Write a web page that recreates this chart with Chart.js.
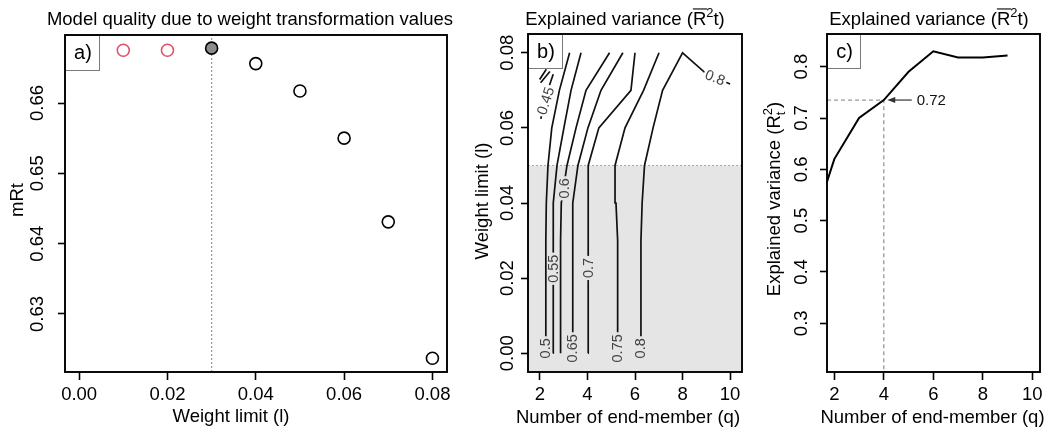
<!DOCTYPE html>
<html><head><meta charset="utf-8">
<script src="https://cdn.jsdelivr.net/npm/chart.js@4.4.1/dist/chart.umd.min.js"></script>
<style>
html,body{margin:0;padding:0;background:#fff;width:1050px;height:432px;overflow:hidden}
canvas{position:absolute;top:0}
#ca{left:0}#cb{left:470px}#cc{left:750px}
</style></head><body>
<canvas id="ca" width="470" height="432"></canvas>
<canvas id="cb" width="280" height="432"></canvas>
<canvas id="cc" width="300" height="432"></canvas>
<script>
// ---------------- Panel a data ----------------
const weightLimits = [0.01, 0.02, 0.03, 0.04, 0.05, 0.06, 0.07, 0.08];
const modelQuality = [0.6675, 0.6675, 0.6678, 0.6656, 0.6617, 0.6550, 0.6431, 0.6237];
const chosenLimit = 0.03;
const aXTicks = [0, 0.02, 0.04, 0.06, 0.08];
const aXLabels = ['0.00', '0.02', '0.04', '0.06', '0.08'];
const aYTicks = [0.63, 0.64, 0.65, 0.66];
const aYLabels = ['0.63', '0.64', '0.65', '0.66'];

// ---------------- Panel b data (contours of explained variance) ----------------
const gridLimits = [0, 0.01, 0.02, 0.03, 0.04, 0.05, 0.06, 0.07, 0.08];
const c050 = [2.25, 2.25, 2.25, 2.25, 2.27, 2.34, 2.50, 2.82, 3.25];
const c055 = [2.56, 2.56, 2.56, 2.56, 2.57, 2.72, 3.01, 3.31, 3.73];
const c060 = [2.87, 2.87, 2.87, 2.87, 2.90, 3.14, 3.52, 3.94, 4.93];
const c065 = [3.38, 3.38, 3.38, 3.38, 3.39, 3.60, 4.02, 4.57, 5.49];
const c070 = [4.03, 4.03, 4.03, 4.03, 4.03, 4.04, 4.48, 5.83, 6.00];
const c075 = [5.27, 5.27, 5.27, 5.27, 5.20, 5.16, 5.58, 6.36, 7.01];
const c080 = [6.25, 6.25, 6.25, 6.25, 6.30, 6.40, 6.76, 7.16, 8.00];
const c080TailQ = [9, 10];
const c080TailL = [0.0744, 0.0717];
const c035Q = [1.99, 2.27];
const c035L = [0.0729, 0.0756];
const c040Q = [2.03, 2.42];
const c040L = [0.0720, 0.0750];
const c045Q = [2.04, 2.25, 2.56];
const c045L = [0.0624, 0.0685, 0.0743];
const cutLimit = 0.05;
const contourLabelText = ['0.45', '0.5', '0.55', '0.6', '0.65', '0.7', '0.75', '0.8', '0.8'];
const contourLabelQ = [2.25, 2.25, 2.56, 3.02, 3.38, 4.03, 5.27, 6.25, 9.37];
const contourLabelL = [0.0672, 0.0013, 0.0225, 0.0439, 0.0013, 0.0227, 0.0013, 0.0013, 0.0733];
const contourLabelAngle = [-72, -90, -90, -90, -90, -90, -90, -90, 22];
const bXTicks = [2, 4, 6, 8, 10];
const bXLabels = ['2', '4', '6', '8', '10'];
const bYTicks = [0, 0.02, 0.04, 0.06, 0.08];
const bYLabels = ['0.00', '0.02', '0.04', '0.06', '0.08'];

// ---------------- Panel c data ----------------
const endMembers = [1, 2, 3, 4, 5, 6, 7, 8, 9];
const explainedVariance = [0.47, 0.62, 0.70, 0.735, 0.79, 0.83, 0.818, 0.818, 0.822];
const chosenQ = 4;
const chosenText = '0.72';
const arrowFromQ = 5.13;
const arrowToQ = 4.14;
const arrowTextQ = 5.33;
const cXTicks = [2, 4, 6, 8, 10];
const cXLabels = ['2', '4', '6', '8', '10'];
const cYTicks = [0.3, 0.4, 0.5, 0.6, 0.7, 0.8];
const cYLabels = ['0.3', '0.4', '0.5', '0.6', '0.7', '0.8'];

// ---------------- helpers ----------------
const FONT = "'Liberation Sans', Arial, Helvetica, sans-serif";
const FS = 18.5;
const RED = '#DF536B';
const GREYBG = '#e5e5e5';
const tickFont = {family: FONT, size: FS};

function scalesFor(o) {
  return {
    x: {
      type: 'linear', position: 'bottom', min: o.xMin, max: o.xMax,
      afterBuildTicks: s => { s.ticks = o.xTicks.map(v => ({value: v})); },
      afterFit: s => { s.height = 60; },
      ticks: {callback: (v, i) => o.xLabels[i], font: tickFont, color: '#000', padding: 4,
              autoSkip: false, maxRotation: 0, minRotation: 0},
      grid: {display: true, drawOnChartArea: false, drawTicks: true, tickLength: 8,
             tickColor: '#000', tickWidth: 1.6, color: '#000'},
      border: {display: false}
    },
    y: {
      type: 'linear', position: 'left', min: o.yMin, max: o.yMax,
      afterBuildTicks: s => { s.ticks = o.yTicks.map(v => ({value: v})); },
      afterFit: s => { s.width = o.yWidth; },
      ticks: {callback: (v, i) => o.yLabels[i], font: tickFont, color: '#000', padding: o.yPad,
              autoSkip: false, minRotation: 90, maxRotation: 90, crossAlign: 'center'},
      grid: {display: true, drawOnChartArea: false, drawTicks: true, tickLength: 7,
             tickColor: '#000', tickWidth: 1.6, color: '#000'},
      border: {display: false}
    }
  };
}

function baseOptions(o) {
  return {
    responsive: false, animation: false, devicePixelRatio: 1,
    layout: {padding: {left: 0, right: o.rightPad, top: o.topPad, bottom: 0}},
    plugins: {legend: {display: false}, tooltip: {enabled: false}, title: {display: false}},
    scales: scalesFor(o)
  };
}

function frame(ctx, a) {
  ctx.save();
  ctx.strokeStyle = '#000'; ctx.lineWidth = 1.9;
  ctx.strokeRect(a.left, a.top, a.right - a.left, a.bottom - a.top);
  ctx.restore();
}
function letterBox(ctx, a, txt, w, h) {
  ctx.save();
  ctx.fillStyle = '#fff'; ctx.fillRect(a.left, a.top, w, h);
  ctx.strokeStyle = '#7a7a7a'; ctx.lineWidth = 1;
  ctx.strokeRect(a.left + 0.5, a.top + 0.5, w, h);
  ctx.fillStyle = '#000'; ctx.font = '20px ' + FONT;
  ctx.textAlign = 'center'; ctx.textBaseline = 'middle';
  ctx.fillText(txt, a.left + w / 2 + 1, a.top + h / 2 + 1);
  ctx.restore();
}
function plainText(ctx, t, x, y, size) {
  ctx.save();
  ctx.fillStyle = '#000'; ctx.font = size + 'px ' + FONT;
  ctx.textAlign = 'center'; ctx.textBaseline = 'alphabetic';
  ctx.fillText(t, x, y);
  ctx.restore();
}
function rotText(ctx, t, x, cy, size) {
  ctx.save();
  ctx.translate(x, cy); ctx.rotate(-Math.PI / 2);
  ctx.fillStyle = '#000'; ctx.font = size + 'px ' + FONT;
  ctx.textAlign = 'center'; ctx.textBaseline = 'alphabetic';
  ctx.fillText(t, 0, 0);
  ctx.restore();
}
function pf(sz) { return sz + 'px ' + FONT; }
function partWidth(ctx, p, size) {
  if (p.k === 'stack') {
    ctx.font = pf(size * 0.7);
    return Math.max(ctx.measureText(p.sup).width, ctx.measureText(p.sub).width);
  }
  if (p.k === 'sup') { ctx.font = pf(size * 0.7); return ctx.measureText(p.t).width; }
  ctx.font = pf(size); return ctx.measureText(p.t).width;
}
function drawParts(ctx, parts, cx, base, size) {
  let total = 0;
  for (const p of parts) total += partWidth(ctx, p, size);
  let x = cx - total / 2;
  ctx.fillStyle = '#000'; ctx.strokeStyle = '#000';
  ctx.textAlign = 'left'; ctx.textBaseline = 'alphabetic';
  for (const p of parts) {
    const w = partWidth(ctx, p, size);
    if (p.k === 'stack') {
      ctx.font = pf(size * 0.7);
      ctx.fillText(p.sup, x, base - size * 0.45);
      ctx.fillText(p.sub, x, base + size * 0.28);
    } else if (p.k === 'sup') {
      ctx.font = pf(size * 0.7);
      ctx.fillText(p.t, x, base - size * 0.42);
    } else {
      ctx.font = pf(size);
      ctx.fillText(p.t, x, base);
      if (p.k === 'bar') {
        ctx.lineWidth = 1.1;
        ctx.beginPath();
        ctx.moveTo(x, base - size * 0.84); ctx.lineTo(x + w + 1, base - size * 0.84);
        ctx.stroke();
      }
    }
    x += w;
  }
}
const titleParts = [{t: 'Explained variance (', k: 'n'}, {t: 'R', k: 'bar'}, {t: '2', k: 'sup'}, {t: 't)', k: 'n'}];
const yTitleC = [{t: 'Explained variance (', k: 'n'}, {t: 'R', k: 'n'}, {k: 'stack', sup: '2', sub: 't'}, {t: ')', k: 'n'}];

// ---------------- Panel a ----------------
const aX = {min: -0.0032, max: 0.0833};
const aY = {min: 0.62175, max: 0.66967};
new Chart(document.getElementById('ca'), {
  type: 'scatter',
  data: {datasets: [
    {data: [{x: chosenLimit, y: aY.min}, {x: chosenLimit, y: aY.max}], showLine: true,
     borderColor: '#9a9a9a', borderWidth: 1.2, borderDash: [2, 2], pointRadius: 0, order: 5},
    {data: weightLimits.map((w, i) => ({x: w, y: modelQuality[i]})), showLine: false,
     pointRadius: 6, pointBorderWidth: 1.6,
     pointBorderColor: c => weightLimits[c.dataIndex] < chosenLimit ? RED : '#000',
     pointBackgroundColor: c => weightLimits[c.dataIndex] === chosenLimit ? '#8c8c8c' : 'rgba(0,0,0,0)',
     order: 1}
  ]},
  options: baseOptions({xMin: aX.min, xMax: aX.max, xTicks: aXTicks, xLabels: aXLabels,
    yMin: aY.min, yMax: aY.max, yTicks: aYTicks, yLabels: aYLabels,
    yWidth: 65, yPad: 1.7, rightPad: 23, topPad: 35}),
  plugins: [{
    id: 'decorA',
    afterDraw(chart) {
      const ctx = chart.ctx, a = chart.chartArea;
      letterBox(ctx, a, 'a)', 34, 35);
      frame(ctx, a);
      plainText(ctx, 'Model quality due to weight transformation values', 250, 24.5, FS);
      plainText(ctx, 'Weight limit (l)', 231, 421.5, FS);
      rotText(ctx, 'mRt', 23.3, 200, FS);
    }
  }]
});

// ---------------- Panel b ----------------
const bX = {min: 1.5, max: 10.5};
const bY = {min: -0.005, max: 0.085};
function contourSet(qs, ls) {
  return {data: qs.map((q, i) => ({x: q, y: ls[i]})), showLine: true, borderColor: '#111',
          borderWidth: 1.7, pointRadius: 0, order: 1};
}
const bDatasets = [
  {data: [{x: bX.min, y: cutLimit}, {x: bX.max, y: cutLimit}], showLine: true, fill: 'start',
   backgroundColor: GREYBG, borderColor: '#a8a8a8', borderWidth: 1, borderDash: [2, 2],
   pointRadius: 0, order: 10},
  contourSet(c050, gridLimits), contourSet(c055, gridLimits), contourSet(c060, gridLimits),
  contourSet(c065, gridLimits), contourSet(c070, gridLimits), contourSet(c075, gridLimits),
  contourSet(c080.concat(c080TailQ), gridLimits.concat(c080TailL)),
  contourSet(c035Q, c035L), contourSet(c040Q, c040L), contourSet(c045Q, c045L)
];
new Chart(document.getElementById('cb'), {
  type: 'scatter',
  data: {datasets: bDatasets},
  options: baseOptions({xMin: bX.min, xMax: bX.max, xTicks: bXTicks, xLabels: bXLabels,
    yMin: bY.min, yMax: bY.max, yTicks: bYTicks, yLabels: bYLabels,
    yWidth: 58, yPad: -5.3, rightPad: 8, topPad: 34}),
  plugins: [{
    id: 'decorB',
    afterDatasetsDraw(chart) {
      const ctx = chart.ctx, xs = chart.scales.x, ys = chart.scales.y;
      ctx.save();
      ctx.font = '14.5px ' + FONT;
      contourLabelText.forEach((t, i) => {
        const px = xs.getPixelForValue(contourLabelQ[i]);
        const py = ys.getPixelForValue(contourLabelL[i]);
        ctx.save();
        ctx.translate(px, py); ctx.rotate(contourLabelAngle[i] * Math.PI / 180);
        const w = ctx.measureText(t).width;
        ctx.fillStyle = contourLabelL[i] < cutLimit ? GREYBG : '#fff';
        ctx.fillRect(-w / 2 - 2, -5.5, w + 4, 11);
        ctx.fillStyle = '#444'; ctx.textAlign = 'center'; ctx.textBaseline = 'middle';
        ctx.fillText(t, 0, 0.5);
        ctx.restore();
      });
      ctx.restore();
    },
    afterDraw(chart) {
      const ctx = chart.ctx, a = chart.chartArea;
      letterBox(ctx, a, 'b)', 34, 34);
      frame(ctx, a);
      ctx.save(); drawParts(ctx, titleParts, 155, 24.5, FS); ctx.restore();
      plainText(ctx, 'Number of end-member (q)', 158, 422.5, FS);
      rotText(ctx, 'Weight limit (l)', 18, 201, FS);
    }
  }]
});

// ---------------- Panel c ----------------
const cX = {min: 1.705, max: 10.311};
const cY = {min: 0.2051, max: 0.8637};
const chosenValue = explainedVariance[endMembers.indexOf(chosenQ)];
new Chart(document.getElementById('cc'), {
  type: 'scatter',
  data: {datasets: [
    {data: [{x: cX.min, y: chosenValue}, {x: chosenQ, y: chosenValue}, {x: chosenQ, y: cY.min}],
     showLine: true, borderColor: '#9a9a9a', borderWidth: 1.3, borderDash: [4, 3], pointRadius: 0, order: 5},
    {data: endMembers.map((q, i) => ({x: q, y: explainedVariance[i]})), showLine: true,
     borderColor: '#000', borderWidth: 2, pointRadius: 0, order: 1}
  ]},
  options: baseOptions({xMin: cX.min, xMax: cX.max, xTicks: cXTicks, xLabels: cXLabels,
    yMin: cY.min, yMax: cY.max, yTicks: cYTicks, yLabels: cYLabels,
    yWidth: 77, yPad: 5.4, rightPad: 10, topPad: 34}),
  plugins: [{
    id: 'decorC',
    afterDatasetsDraw(chart) {
      const ctx = chart.ctx, xs = chart.scales.x, ys = chart.scales.y;
      const y = ys.getPixelForValue(chosenValue);
      const x1 = xs.getPixelForValue(arrowFromQ), x2 = xs.getPixelForValue(arrowToQ);
      ctx.save();
      ctx.strokeStyle = '#333'; ctx.fillStyle = '#333'; ctx.lineWidth = 1.2;
      ctx.beginPath(); ctx.moveTo(x1, y); ctx.lineTo(x2 + 4, y); ctx.stroke();
      ctx.beginPath(); ctx.moveTo(x2, y); ctx.lineTo(x2 + 8, y - 3); ctx.lineTo(x2 + 8, y + 3); ctx.closePath(); ctx.fill();
      ctx.font = '15px ' + FONT; ctx.fillStyle = '#111';
      ctx.textAlign = 'left'; ctx.textBaseline = 'middle';
      ctx.fillText(chosenText, xs.getPixelForValue(arrowTextQ), y + 0.5);
      ctx.restore();
    },
    afterDraw(chart) {
      const ctx = chart.ctx, a = chart.chartArea;
      letterBox(ctx, a, 'c)', 33, 34);
      frame(ctx, a);
      ctx.save(); drawParts(ctx, titleParts, 179, 24.5, FS); ctx.restore();
      plainText(ctx, 'Number of end-member (q)', 182.5, 422.5, FS);
      ctx.save(); ctx.translate(30, 199); ctx.rotate(-Math.PI / 2);
      drawParts(ctx, yTitleC, 0, 0, FS); ctx.restore();
    }
  }]
});
</script>
</body></html>
